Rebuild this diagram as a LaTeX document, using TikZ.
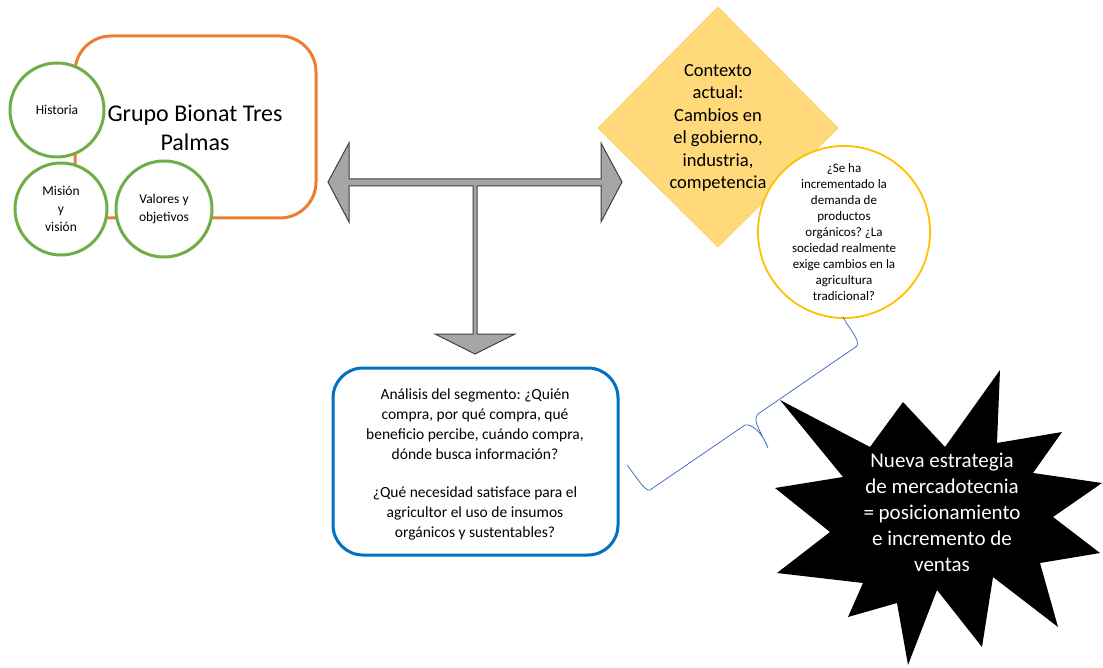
\documentclass[tikz,border=0pt]{standalone}
\usepackage{fontspec}
\setmainfont{Carlito}
\frenchspacing
\definecolor{orng}{HTML}{ED7D31}
\definecolor{grn}{HTML}{70AD47}
\definecolor{blu}{HTML}{0070C0}
\definecolor{gold}{HTML}{FFC000}
\definecolor{dfill}{HTML}{FFD97A}
\definecolor{brc}{HTML}{4472C4}
\definecolor{agray}{HTML}{A6A6A6}
\definecolor{aline}{HTML}{404040}
\begin{document}
\begin{tikzpicture}[x=1pt,y=-1pt,
  gcirc/.style={circle,draw=grn,line width=3pt,fill=white,inner sep=0pt,align=center,font=\fontsize{13.5}{18}\selectfont},
  txt/.style={align=center,inner sep=0pt}]
\useasboundingbox (0,0) rectangle (1103,668);
% orange rounded box
\draw[orng,line width=3pt,rounded corners=36pt] (75,36) rectangle (316,218);
\node[txt,font=\fontsize{24}{29}\selectfont] (grupo) at (195,128) {Grupo Bionat Tres\\Palmas};
\node[gcirc,minimum size=94pt] (hist) at (57,110) {Historia};
\node[gcirc,minimum size=92pt] (mis) at (61,209) {Misión\\y\\visión};
\node[gcirc,minimum size=96pt] (val) at (164,209) {Valores y\\objetivos};
% T arrow
\filldraw[fill=agray,draw=aline,line width=1pt,line join=miter]
 (328,182) -- (349,143) -- (349,179) -- (601,179) -- (601,143) -- (622,182) -- (601,222) -- (601,186)
 -- (477,186) -- (477,334) -- (515,334) -- (475,354) -- (435,334) -- (473,334) -- (473,186)
 -- (349,186) -- (349,222) -- cycle;
% diamond
\filldraw[fill=dfill,draw=dfill!90!orange,line width=0.8pt] (718,7) -- (838,128) -- (718,247) -- (598,128) -- cycle;
\node[txt,font=\fontsize{18.5}{22.4}\selectfont] (ctx) at (718,128) {Contexto\\actual:\\Cambios en\\el gobierno,\\industria,\\competencia};
% yellow circle
\node[circle,draw=gold,line width=1.8pt,fill=white,minimum size=172pt,inner sep=0pt,align=center,font=\fontsize{13}{16}\selectfont] (q) at (844,232)
 {¿Se ha\\incrementado la\\demanda de\\productos\\orgánicos? ¿La\\sociedad realmente\\exige cambios en la\\agricultura\\tradicional?};
% blue rounded box
\draw[blu,line width=3pt,rounded corners=30pt] (333,368) rectangle (618,555);
\node[txt,font=\fontsize{15.5}{20}\selectfont] (seg) at (475,464)
 {Análisis del segmento: ¿Quién\\compra, por qué compra, qué\\beneficio percibe, cuándo compra,\\dónde busca información?\\[18pt]¿Qué necesidad satisface para el\\agricultor el uso de insumos\\orgánicos y sustentables?};
% star
\fill[black] (780,400) -- (870,447) -- (903,402) -- (945,447) -- (1000,370) -- (997,443) -- (1062,432) -- (1033,473)
 -- (1102,483) -- (1053,517) -- (1100,553) -- (1040,563) -- (1058,627) -- (993,577) -- (982,647) -- (937,590)
 -- (908,665) -- (897,603) -- (848,617) -- (863,583) -- (777,573) -- (830,532) -- (775,488) -- (843,477) -- cycle;
\node[txt,text=white,font=\fontsize{21}{26}\selectfont] (star) at (942,512) {Nueva estrategia\\de mercadotecnia\\= posicionamiento\\e incremento de\\ventas};
% brace
\coordinate (b1) at (843,317);
\coordinate (b2) at (627,465);
\coordinate (tip) at (768,448);
\draw[brc,line width=0.8pt,line join=round] (b1) .. controls (850,330) and (860,340) .. (857,346)
 -- (758,414) .. controls (752,420) and (760,430) .. (tip)
 (tip) .. controls (762,432) and (752,424) .. (745,425)
 -- (650,490) .. controls (645,492) and (635,475) .. (b2);
\end{tikzpicture}
\end{document}
